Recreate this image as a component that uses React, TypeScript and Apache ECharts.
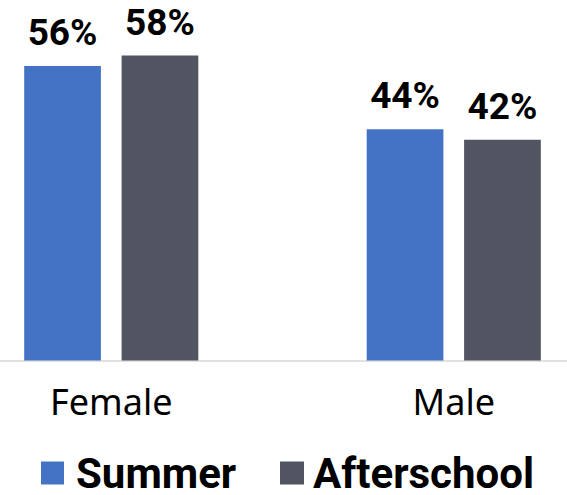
import React, { useEffect, useRef } from "react";
import * as echarts from "echarts";

const categories = ["Female", "Male"];
const seriesNames = ["Summer", "Afterschool"];
const summerValues = [56, 44];
const afterschoolValues = [58, 42];
const colors = ["#4472C4", "#515461"];

const OFFSET = 60;

export default function App() {
  const ref = useRef<HTMLDivElement>(null);
  useEffect(() => {
    if (!ref.current) return;
    const chart = echarts.init(ref.current, null, { renderer: "svg" });
    const label = {
      show: true,
      position: "top",
      distance: 15,
      formatter: "{c}%",
      fontFamily: "Roboto",
      fontWeight: "bold",
      fontSize: 37,
      lineHeight: 37,
      color: "#000",
    };
    const legendText = (padLeft: number) => ({
      fontFamily: "Roboto",
      fontWeight: "bold",
      fontSize: 42,
      lineHeight: 40,
      color: "#000",
      padding: [0, 0, 4, padLeft],
    });
    chart.setOption({
      animation: false,
      backgroundColor: "#fff",
      legend: [
        {
          left: 41 + OFFSET,
          top: 451,
          padding: 0,
          itemWidth: 23,
          itemHeight: 23,
          icon: "rect",
          data: [seriesNames[0]],
          textStyle: legendText(7),
        },
        {
          left: 280 + OFFSET,
          top: 451,
          padding: 0,
          itemWidth: 24,
          itemHeight: 23,
          icon: "rect",
          data: [seriesNames[1]],
          textStyle: legendText(4),
        },
      ],
      grid: { left: 0, right: 0, top: 45, bottom: 134.5, containLabel: false },
      xAxis: {
        type: "category",
        data: categories,
        axisLine: { show: true, lineStyle: { color: "#d9d9d9", width: 1.5 } },
        axisTick: { show: false },
        axisLabel: {
          margin: 23,
          fontFamily: "Noto Sans",
          fontSize: 36,
          lineHeight: 36,
          color: "#000",
        },
      },
      yAxis: {
        type: "value",
        min: 0,
        max: 60,
        show: false,
        splitLine: { show: false },
      },
      series: [
        {
          name: seriesNames[0],
          type: "bar",
          data: summerValues,
          barWidth: 76.7,
          barGap: "27%",
          itemStyle: { color: colors[0] },
          label,
        },
        {
          name: seriesNames[1],
          type: "bar",
          data: afterschoolValues,
          barWidth: 76.7,
          barGap: "27%",
          itemStyle: { color: colors[1] },
          label,
        },
      ],
    });
    return () => chart.dispose();
  }, []);
  return (
    <div style={{ position: "fixed", left: 0, top: 0, width: 567, height: 495, overflow: "hidden" }}>
      <div
        ref={ref}
        style={{ position: "absolute", left: -OFFSET, top: 0, width: 684.6, height: 495 }}
      />
    </div>
  );
}
